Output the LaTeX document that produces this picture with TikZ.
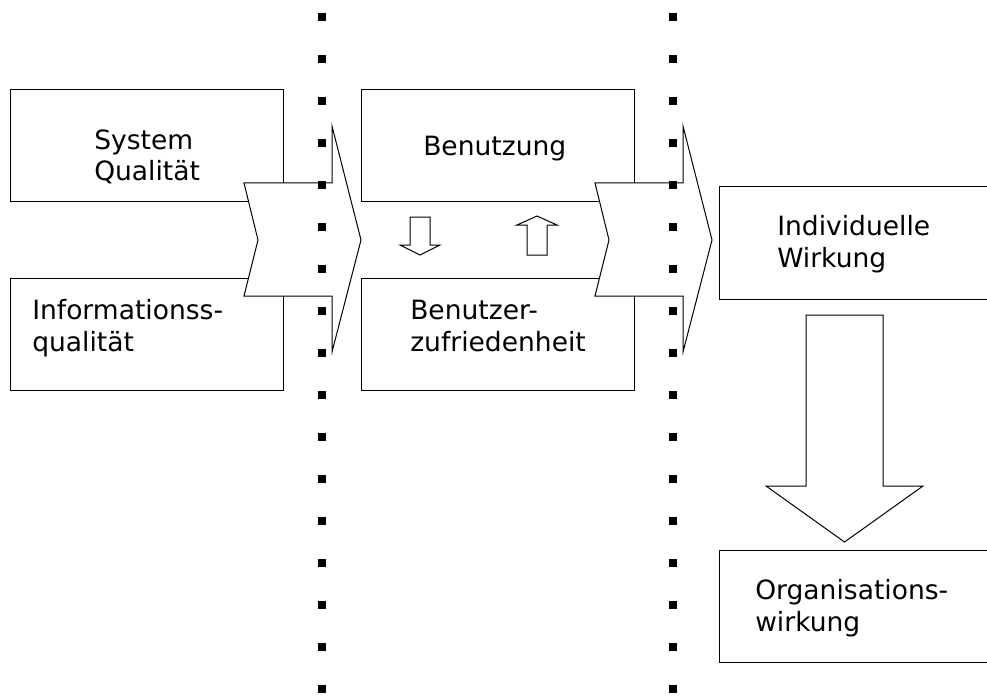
\documentclass[tikz,border=0pt]{standalone}
\usepackage{fontspec}
\setmainfont{DejaVu Sans}
\usetikzlibrary{positioning}

\tikzset{
    box/.style={draw, rectangle, line width=0.75pt, fill=white, inner sep=0pt,
                minimum width=204.75pt, minimum height=84pt},
    lbl/.style={anchor=base west, align=left, inner sep=0pt,
                font=\fontsize{19.9}{24}\selectfont},
    blockarrow/.style={draw, line width=0.75pt, fill=white, line join=miter},
    dot/.style={fill=black}
}

\begin{document}
\begin{tikzpicture}[x=0.75pt, y=-0.75pt]
    \useasboundingbox (0,0) rectangle (987,695);

    % boxes
    \draw
        (146.5, 146) node[box](sys){}
        (146.5, 334) node[box](info){}
        (497.5, 146) node[box](ben){}
        (497.5, 334) node[box](zuf){}
        (854.5, 243) node[box, minimum width=203pt, minimum height=84.5pt](ind){}
        (854.5, 606.5) node[box, minimum width=203pt, minimum height=84.5pt](org){}
    ;

    % texts (base = last line)
    \node[lbl] (sysT)  at (94, 181)  {System\\Qualität};
    \node[lbl] (infoT) at (32, 351)  {Informationss-\\qualität};
    \node[lbl] (benT)  at (423, 156) {Benutzung};
    \node[lbl] (zufT)  at (410, 351) {Benutzer-\\zufriedenheit};
    \node[lbl] (indT)  at (777, 267) {Individuelle\\Wirkung};
    \node[lbl] (orgT)  at (755, 631) {Organisations-\\wirkung};

    % chevrons
    \draw[blockarrow] (244,183) -- (332,183) -- (332,126) -- (361,240)
        -- (332,352) -- (332,296) -- (244,296) -- (258,240) -- cycle;
    \draw[blockarrow] (595,183) -- (683,183) -- (683,126) -- (712,240)
        -- (683,352) -- (683,296) -- (595,296) -- (609,240) -- cycle;

    % small arrows between Benutzung and Benutzerzufriedenheit
    \draw[blockarrow] (410,217) -- (430,217) -- (430,245) -- (440,245)
        -- (420,255) -- (400,245) -- (410,245) -- cycle;
    \draw[blockarrow] (527,255) -- (547,255) -- (547,225) -- (557,225)
        -- (537,216) -- (517,225) -- (527,225) -- cycle;

    % big arrow down
    \draw[blockarrow] (806,315) -- (883,315) -- (883,486) -- (923,486)
        -- (844.5,542) -- (766,486) -- (806,486) -- cycle;

    % dotted separators
    \foreach \k in {0,...,16}{
        \fill[dot] (318, 13+42*\k) rectangle (326, 21+42*\k);
        \fill[dot] (669, 13+42*\k) rectangle (677, 21+42*\k);
    }
\end{tikzpicture}
\end{document}
